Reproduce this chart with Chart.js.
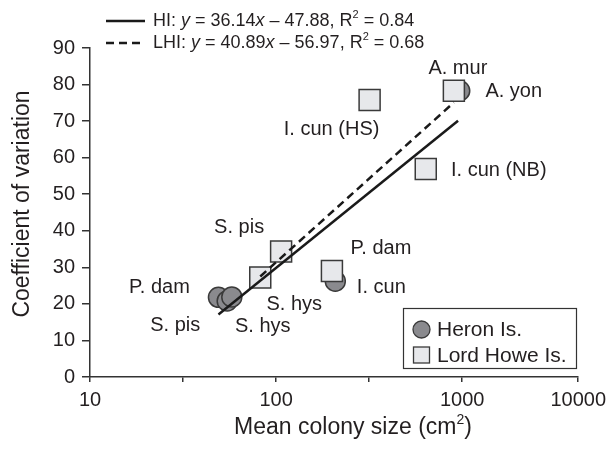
<!DOCTYPE html>
<html><head><meta charset="utf-8">
<script src="https://cdn.jsdelivr.net/npm/chart.js@4.4.1/dist/chart.umd.min.js"></script>
<style>html,body{margin:0;padding:0;background:#fff}#wrap{width:612px;height:451px;position:relative}</style>
</head><body><div id="wrap"><canvas id="c" width="612" height="451"></canvas></div>
<script>
// ---- data ----
const heronNames = ['P. dam', 'S. pis', 'S. hys', 'I. cun', 'A. yon'];
const heronSize  = [49, 54.6, 57.8, 208, 970];
const heronCV    = [21.8, 20.8, 21.9, 26.2, 78.3];
const lhNames = ['S. hys', 'S. pis', 'P. dam', 'I. cun (HS)', 'I. cun (NB)', 'A. mur'];
const lhSize  = [82.2, 106.4, 199.5, 318, 637, 902];
const lhCV    = [27.2, 34.3, 29.0, 75.8, 56.9, 78.3];
const hiFitX  = [49, 950];
const hiFitY  = [17.1, 70.1];
const lhiFitX = [82.2, 902];
const lhiFitY = [27.5, 75.1];
const xTickValues = [10, 31.62, 100, 316.2, 1000, 4200];
const xTickLabels = ['10', '', '100', '', '1000', '10000'];
const yMin = 0, yMax = 90, yStep = 10;
const hiEq  = ['HI: ', 'y', ' = 36.14', 'x', ' \u2013 47.88, R', '2', ' = 0.84'];
const lhiEq = ['LHI: ', 'y', ' = 40.89', 'x', ' \u2013 56.97, R', '2', ' = 0.68'];
const xTitle = ['Mean colony size (cm', '2', ')'];
const yTitle = 'Coefficient of variation';

// ---- label placement (pixel offsets from each point) ----
const heronLabelOff = [[-59, -10], [-52, 25], [31, 30], [46, 6], [54, 1]];
const lhLabelOff = [[34, 27], [-42, -24], [49, -23], [-38, 30], [73, 1], [4, -22]];

const FONT = '"Liberation Sans", Arial, Helvetica, sans-serif';
const TXT = '#231f20';
const AX = '#333333';

const pts = (xs, ys) => xs.map((x, i) => ({ x: x, y: ys[i] }));

const labelsPlugin = {
  id: 'extras',
  afterDraw(chart) {
    const c = chart.ctx;
    const xs = chart.scales.x, ys = chart.scales.y;
    c.save();
    c.fillStyle = TXT;
    c.textBaseline = 'middle';
    c.textAlign = 'center';
    c.font = '20px ' + FONT;
    heronNames.forEach((n, i) => {
      const px = xs.getPixelForValue(heronSize[i]), py = ys.getPixelForValue(heronCV[i]);
      c.fillText(n, px + heronLabelOff[i][0], py + heronLabelOff[i][1]);
    });
    lhNames.forEach((n, i) => {
      const px = xs.getPixelForValue(lhSize[i]), py = ys.getPixelForValue(lhCV[i]);
      c.fillText(n, px + lhLabelOff[i][0], py + lhLabelOff[i][1]);
    });

    // rich text helper
    function rich(parts, x, y, size, align) {
      const fonts = parts.map((p, i) => {
        if (p === 'y' || p === 'x') return 'italic ' + size + 'px ' + FONT;
        if (p === '2') return Math.round(size * 0.62) + 'px ' + FONT;
        return size + 'px ' + FONT;
      });
      let total = 0;
      const widths = parts.map((p, i) => { c.font = fonts[i]; const w = c.measureText(p).width; total += w; return w; });
      let cx = align === 'center' ? x - total / 2 : x;
      c.textAlign = 'left';
      parts.forEach((p, i) => {
        c.font = fonts[i];
        const dy = p === '2' ? -size * 0.35 : 0;
        c.fillText(p, cx, y + dy);
        cx += widths[i];
      });
    }

    // equation legend
    const lineDs = chart.data.datasets;
    c.lineWidth = 2.5;
    c.strokeStyle = lineDs[0].borderColor;
    c.setLineDash([]);
    c.beginPath(); c.moveTo(106, 21); c.lineTo(145, 21); c.stroke();
    c.setLineDash(lineDs[1].borderDash);
    c.beginPath(); c.moveTo(106, 43); c.lineTo(145, 43); c.stroke();
    c.setLineDash([]);
    c.textBaseline = 'middle';
    rich(hiEq, 153, 21, 18, 'left');
    rich(lhiEq, 153, 43, 18, 'left');

    // symbol legend
    c.lineWidth = 1.2;
    c.strokeStyle = AX;
    c.strokeRect(403.5, 308.5, 173, 60);
    const sq = lineDs[2], ci = lineDs[3];
    c.beginPath(); c.arc(421.5, 329.5, 8.5, 0, Math.PI * 2);
    c.fillStyle = ci.backgroundColor; c.fill();
    c.lineWidth = 1.3; c.strokeStyle = ci.borderColor; c.stroke();
    c.fillStyle = sq.backgroundColor;
    c.fillRect(413.5, 347, 16, 16);
    c.strokeStyle = sq.borderColor; c.strokeRect(413.5, 347, 16, 16);
    c.fillStyle = TXT;
    c.font = '21px ' + FONT;
    c.textAlign = 'left';
    c.fillText(ci.label, 437, 330);
    c.fillText(sq.label, 437, 356);

    // axis titles
    c.textBaseline = 'middle';
    rich(xTitle, 353, 428, 23, 'center');
    c.save();
    c.translate(23, 204);
    c.rotate(-Math.PI / 2);
    c.textAlign = 'center';
    c.font = '23px ' + FONT;
    c.fillText(yTitle, 0, 0);
    c.restore();
    c.restore();
  }
};

new Chart(document.getElementById('c'), {
  type: 'scatter',
  data: {
    datasets: [
      { type: 'line', label: 'HI', data: pts(hiFitX, hiFitY), borderColor: '#1a1a1a', borderWidth: 2.5,
        pointRadius: 0, fill: false, order: 0 },
      { type: 'line', label: 'LHI', data: pts(lhiFitX, lhiFitY), borderColor: '#1a1a1a', borderWidth: 2.5,
        borderDash: [8, 5], pointRadius: 0, fill: false, order: 1 },
      { label: 'Lord Howe Is.', data: pts(lhSize, lhCV), pointStyle: 'rect', pointRadius: 14.85,
        backgroundColor: '#e7e8eb', borderColor: '#3a3a3a', borderWidth: 1.5, order: 2 },
      { label: 'Heron Is.', data: pts(heronSize, heronCV), pointStyle: 'circle', pointRadius: 10,
        backgroundColor: '#8a8a8e', borderColor: '#3a3a3a', borderWidth: 1.5, order: 3 }
    ]
  },
  options: {
    responsive: false, animation: false, devicePixelRatio: 1,
    layout: { padding: { left: 0, right: 31, top: 48, bottom: 0 } },
    plugins: { legend: { display: false }, tooltip: { enabled: false } },
    scales: {
      x: {
        type: 'logarithmic', min: xTickValues[0], max: xTickValues[xTickValues.length - 1],
        afterBuildTicks: s => { s.ticks = xTickValues.map(v => ({ value: v })); },
        afterFit: s => { s.height = 74; },
        ticks: { autoSkip: false, maxRotation: 0, minRotation: 0, padding: 6,
          callback: (v, i) => xTickLabels[i], font: { family: FONT, size: 20 }, color: TXT },
        grid: { display: true, drawOnChartArea: false, drawTicks: true, tickLength: 5, tickColor: AX, lineWidth: 1.5 },
        border: { display: true, color: AX, width: 1.5 }
      },
      y: {
        type: 'linear', min: yMin, max: yMax,
        afterFit: s => { s.width = 90; },
        ticks: { stepSize: yStep, padding: 7, font: { family: FONT, size: 20 }, color: TXT },
        grid: { display: true, drawOnChartArea: false, drawTicks: true, tickLength: 8, tickColor: AX, lineWidth: 1.5 },
        border: { display: true, color: AX, width: 1.5 }
      }
    }
  },
  plugins: [labelsPlugin]
});
</script>
</body></html>
